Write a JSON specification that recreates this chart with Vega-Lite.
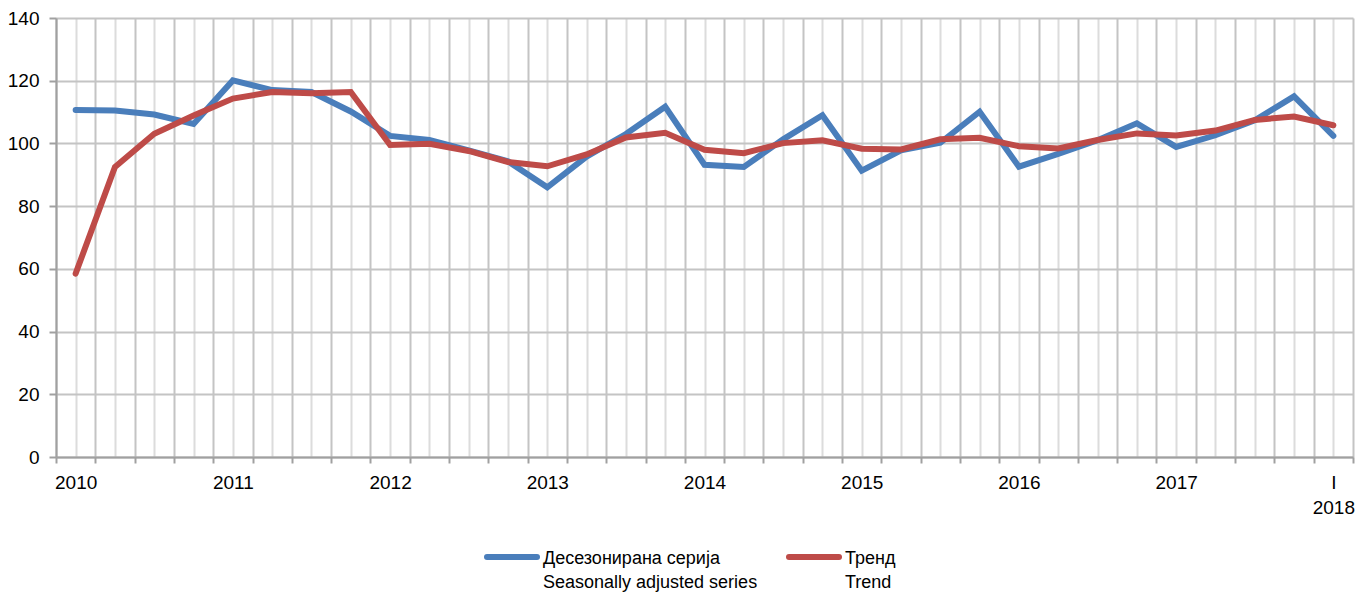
{
  "$schema": "https://vega.github.io/schema/vega-lite/v6.json",
  "width": 1297,
  "height": 439,
  "autosize": {"type": "none"},
  "padding": {"left": 56, "top": 18, "right": 15, "bottom": 137},
  "background": "white",
  "config": {"view": {"stroke": null}, "font": "Liberation Sans"},
  "data": {"values": [
    {"q": 0, "series": "Десезонирана серија", "value": 110.7},
    {"q": 1, "series": "Десезонирана серија", "value": 110.5},
    {"q": 2, "series": "Десезонирана серија", "value": 109.2},
    {"q": 3, "series": "Десезонирана серија", "value": 106.2},
    {"q": 4, "series": "Десезонирана серија", "value": 120.1},
    {"q": 5, "series": "Десезонирана серија", "value": 117.0},
    {"q": 6, "series": "Десезонирана серија", "value": 116.4},
    {"q": 7, "series": "Десезонирана серија", "value": 110.2},
    {"q": 8, "series": "Десезонирана серија", "value": 102.4},
    {"q": 9, "series": "Десезонирана серија", "value": 101.1},
    {"q": 10, "series": "Десезонирана серија", "value": 97.8},
    {"q": 11, "series": "Десезонирана серија", "value": 94.3},
    {"q": 12, "series": "Десезонирана серија", "value": 86.0},
    {"q": 13, "series": "Десезонирана серија", "value": 95.8},
    {"q": 14, "series": "Десезонирана серија", "value": 103.0},
    {"q": 15, "series": "Десезонирана серија", "value": 111.7},
    {"q": 16, "series": "Десезонирана серија", "value": 93.2},
    {"q": 17, "series": "Десезонирана серија", "value": 92.5},
    {"q": 18, "series": "Десезонирана серија", "value": 101.3},
    {"q": 19, "series": "Десезонирана серија", "value": 109.0},
    {"q": 20, "series": "Десезонирана серија", "value": 91.3},
    {"q": 21, "series": "Десезонирана серија", "value": 97.8},
    {"q": 22, "series": "Десезонирана серија", "value": 100.2},
    {"q": 23, "series": "Десезонирана серија", "value": 110.1},
    {"q": 24, "series": "Десезонирана серија", "value": 92.6},
    {"q": 25, "series": "Десезонирана серија", "value": 96.7},
    {"q": 26, "series": "Десезонирана серија", "value": 101.0},
    {"q": 27, "series": "Десезонирана серија", "value": 106.4},
    {"q": 28, "series": "Десезонирана серија", "value": 98.9},
    {"q": 29, "series": "Десезонирана серија", "value": 102.6},
    {"q": 30, "series": "Десезонирана серија", "value": 107.4},
    {"q": 31, "series": "Десезонирана серија", "value": 115.0},
    {"q": 32, "series": "Десезонирана серија", "value": 102.4},
    {"q": 0, "series": "Тренд", "value": 58.5},
    {"q": 1, "series": "Тренд", "value": 92.5},
    {"q": 2, "series": "Тренд", "value": 103.1},
    {"q": 3, "series": "Тренд", "value": 108.9},
    {"q": 4, "series": "Тренд", "value": 114.3},
    {"q": 5, "series": "Тренд", "value": 116.4},
    {"q": 6, "series": "Тренд", "value": 116.0},
    {"q": 7, "series": "Тренд", "value": 116.4},
    {"q": 8, "series": "Тренд", "value": 99.5},
    {"q": 9, "series": "Тренд", "value": 99.9},
    {"q": 10, "series": "Тренд", "value": 97.6},
    {"q": 11, "series": "Тренд", "value": 94.1},
    {"q": 12, "series": "Тренд", "value": 92.7},
    {"q": 13, "series": "Тренд", "value": 96.5},
    {"q": 14, "series": "Тренд", "value": 101.9},
    {"q": 15, "series": "Тренд", "value": 103.4},
    {"q": 16, "series": "Тренд", "value": 98.0},
    {"q": 17, "series": "Тренд", "value": 96.9},
    {"q": 18, "series": "Тренд", "value": 100.1},
    {"q": 19, "series": "Тренд", "value": 101.0},
    {"q": 20, "series": "Тренд", "value": 98.3},
    {"q": 21, "series": "Тренд", "value": 98.1},
    {"q": 22, "series": "Тренд", "value": 101.3},
    {"q": 23, "series": "Тренд", "value": 101.8},
    {"q": 24, "series": "Тренд", "value": 99.1},
    {"q": 25, "series": "Тренд", "value": 98.4},
    {"q": 26, "series": "Тренд", "value": 101.1},
    {"q": 27, "series": "Тренд", "value": 103.2},
    {"q": 28, "series": "Тренд", "value": 102.5},
    {"q": 29, "series": "Тренд", "value": 104.1},
    {"q": 30, "series": "Тренд", "value": 107.5},
    {"q": 31, "series": "Тренд", "value": 108.6},
    {"q": 32, "series": "Тренд", "value": 105.8}
  ]},
  "mark": {"type": "line", "strokeWidth": 6, "strokeCap": "round"},
  "encoding": {
    "x": {
      "field": "q",
      "type": "quantitative",
      "scale": {"domain": [-0.5, 32.5], "nice": false, "zero": false},
      "axis": {
        "title": null,
        "values": [-0.5, 0, 0.5, 1, 1.5, 2, 2.5, 3, 3.5, 4, 4.5, 5, 5.5, 6, 6.5, 7, 7.5, 8, 8.5, 9, 9.5, 10, 10.5, 11, 11.5, 12, 12.5, 13, 13.5, 14, 14.5, 15, 15.5, 16, 16.5, 17, 17.5, 18, 18.5, 19, 19.5, 20, 20.5, 21, 21.5, 22, 22.5, 23, 23.5, 24, 24.5, 25, 25.5, 26, 26.5, 27, 27.5, 28, 28.5, 29, 29.5, 30, 30.5, 31, 31.5, 32, 32.5],
        "grid": true,
        "gridColor": {"condition": {"test": "datum.value % 1 === 0", "value": "#DCDCDC"}, "value": "#C4C4C4"},
        "gridWidth": 2,
        "tickOpacity": {"condition": {"test": "datum.value % 1 === 0", "value": 0}, "value": 1},
        "tickSize": 6,
        "tickColor": "#A0A0A0",
        "tickWidth": 2,
        "domainColor": "#A0A0A0",
        "domainWidth": 2,
        "labelExpr": "datum.value === 32 ? ['I', '2018'] : (datum.value % 4 === 0 ? '' + (2010 + datum.value / 4) : '')",
        "labelOverlap": false,
        "labelFlush": false,
        "labelBound": false,
        "labelFont": "Liberation Sans",
        "labelFontSize": 19,
        "labelColor": "#000000",
        "labelPadding": 10,
        "labelLineHeight": 25
      }
    },
    "y": {
      "field": "value",
      "type": "quantitative",
      "scale": {"domain": [0, 140], "nice": false},
      "axis": {
        "title": null,
        "values": [0, 20, 40, 60, 80, 100, 120, 140],
        "grid": true,
        "gridColor": "#C4C4C4",
        "gridWidth": 2,
        "tickSize": 7,
        "tickColor": "#A0A0A0",
        "tickWidth": 2,
        "domainColor": "#A0A0A0",
        "domainWidth": 2,
        "labelFont": "Liberation Sans",
        "labelFontSize": 19,
        "labelColor": "#000000",
        "labelPadding": 10
      }
    },
    "color": {
      "field": "series",
      "type": "nominal",
      "scale": {"domain": ["Десезонирана серија", "Тренд"], "range": ["#4A7EBB", "#BE4B48"]},
      "legend": {
        "title": null,
        "orient": "none",
        "legendX": 428,
        "legendY": 511,
        "direction": "horizontal",
        "symbolType": "stroke",
        "symbolSize": 2500,
        "symbolStrokeWidth": 6,
        "labelFont": "Liberation Sans",
        "labelFontSize": 18,
        "labelColor": "#000000",
        "labelLimit": 500,
        "labelOffset": 3,
        "columnPadding": 14,
        "padding": 0,
        "labelExpr": "datum.label === 'Тренд' ? ['Тренд', 'Trend'] : ['Десезонирана серија', 'Seasonally adjusted  series']",
        "encode": {
          "symbols": {"update": {"strokeCap": {"value": "round"}}},
          "labels": {"update": {"lineHeight": {"value": 24}, "dy": {"value": 2}}}
        }
      }
    }
  }
}
